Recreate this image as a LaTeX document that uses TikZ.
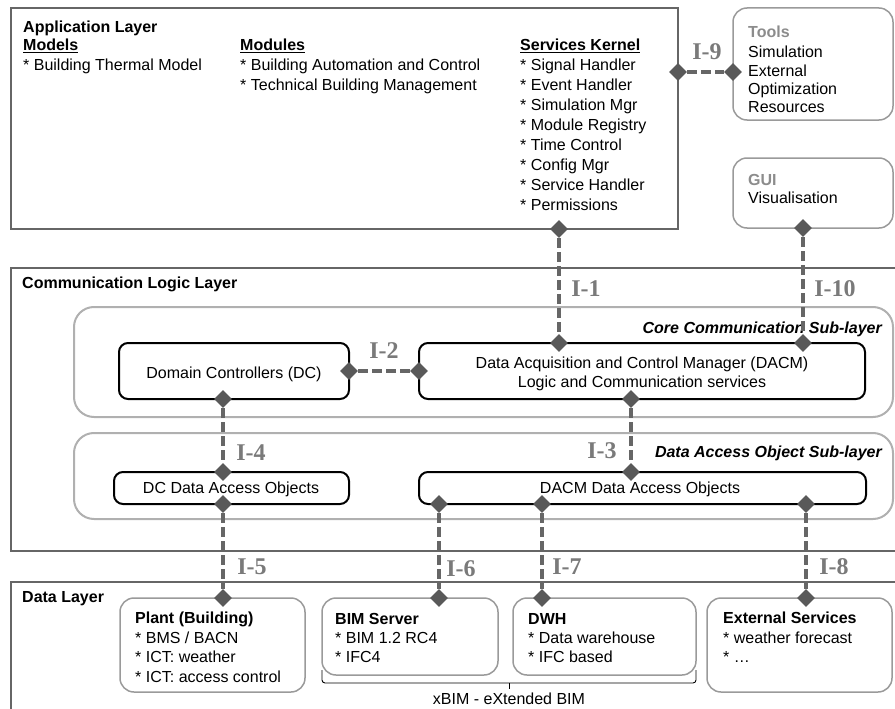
\documentclass[tikz,border=0pt]{standalone}
\usepackage{fontspec}
\setmainfont{Liberation Sans}
\newfontfamily\lblfont{Liberation Serif}
\usetikzlibrary{shapes.geometric,fit}
\definecolor{dgray}{HTML}{666666}
\definecolor{lgray}{HTML}{B0B0B0}
\definecolor{mgray}{HTML}{9A9A9A}
\definecolor{dia}{HTML}{595959}
\definecolor{lbl}{HTML}{7A7A7A}
\definecolor{hdgray}{HTML}{8C8C8C}
\begin{document}
\begin{tikzpicture}[x=1pt,y=-1pt,
  layer/.style={draw=dgray,line width=2pt,inner sep=0pt},
  sublayer/.style={draw=lgray,line width=2pt,rounded corners=20pt,inner sep=0pt},
  comp/.style={draw=black,line width=2pt,rounded corners=9pt,inner sep=0pt},
  ext/.style={draw=mgray,line width=1.5pt,rounded corners=14pt,inner sep=0pt},
  tx/.style={anchor=west,inner sep=0pt,text height=11.5pt,text depth=0pt,font=\fontsize{16}{20}\selectfont},
  txc/.style={tx,anchor=center},
  txr/.style={tx,anchor=east},
  dmd/.style={shape=diamond,fill=dia,inner sep=0pt,minimum width=18pt,minimum height=18pt},
  conn/.style={draw=dgray,line width=3.5pt,dash pattern=on 10pt off 4pt},
  ilbl/.style={inner sep=0pt,text=lbl,font=\fontsize{24}{24}\selectfont\lblfont\bfseries}
]
\useasboundingbox (0,0) rectangle (895,709);
\clip (0,0) rectangle (895,709);

% ---------- Application layer ----------
\node[layer,fit={(11,8) (678,229)}] (app) {};
\node[tx,font=\fontsize{16}{20}\selectfont\bfseries] (apptitle) at (23,27) {Application Layer};
\node[tx,font=\fontsize{16}{20}\selectfont\bfseries] (models) at (23,45) {\underline{Models}};
\node[tx] (m1) at (23,65) {* Building Thermal Model};
\node[tx,font=\fontsize{16}{20}\selectfont\bfseries] (modules) at (240,45) {\underline{Modules}};
\node[tx] (mo1) at (240,65) {* Building Automation and Control};
\node[tx] (mo2) at (240,85) {* Technical Building Management};
\node[tx,font=\fontsize{16}{20}\selectfont\bfseries] (sk) at (520,45) {\underline{Services Kernel}};
\foreach \t [count=\i from 0] in {Signal Handler,Event Handler,Simulation Mgr,Module Registry,Time Control,Config Mgr,Service Handler,Permissions}
  \node[tx] (sk\i) at (520,{65+19.9*\i}) {* \t};

% ---------- Tools / GUI ----------
\node[ext,fit={(733,8) (893,120)}] (tools) {};
\node[tx,font=\fontsize{16}{20}\selectfont\bfseries,text=hdgray] (toolst) at (748,32) {Tools};
\foreach \t [count=\i from 0] in {Simulation,External,Optimization,Resources}
  \node[tx] (tl\i) at (748,{52+18.3*\i}) {\t};
\node[ext,fit={(733,158) (893,228)}] (gui) {};
\node[tx,font=\fontsize{16}{20}\selectfont\bfseries,text=hdgray] (guit) at (748,180) {GUI};
\node[tx] (guiv) at (748,198) {Visualisation};

% ---------- Communication logic layer ----------
\node[layer,fit={(11,268) (910,551)}] (comm) {};
\node[tx,font=\fontsize{16}{20}\selectfont\bfseries] (commt) at (22,283) {Communication Logic Layer};
\node[sublayer,fit={(74,307) (893,417)}] (core) {};
\node[txr,font=\fontsize{16}{20}\selectfont\bfseries\itshape] (coret) at (882,328) {Core Communication Sub-layer};
\node[sublayer,fit={(74,433) (893,519)}] (dao) {};
\node[txr,font=\fontsize{16}{20}\selectfont\bfseries\itshape] (daot) at (882,452) {Data Access Object Sub-layer};

\node[comp,fit={(119,343) (349,399)}] (dc) {};
\node[txc] (dct) at (234,373) {Domain Controllers (DC)};
\node[comp,fit={(419,343) (865,399)}] (dacm) {};
\node[txc] (dacmt1) at (642,363) {Data Acquisition and Control Manager (DACM)};
\node[txc] (dacmt2) at (642,382) {Logic and Communication services};
\node[comp,fit={(114,472) (349,504)}] (dcdao) {};
\node[txc] (dcdaot) at (231,488) {DC Data Access Objects};
\node[comp,fit={(419,472) (866,504)}] (dacmdao) {};
\node[txc] (dacmdaot) at (640,488) {DACM Data Access Objects};

% ---------- Data layer ----------
\node[layer,fit={(11,582) (910,730)}] (datal) {};
\node[tx,font=\fontsize{16}{20}\selectfont\bfseries] (datat) at (22,597) {Data Layer};

\node[ext,fit={(120,598) (305,692)}] (plant) {};
\node[tx,font=\fontsize{16}{20}\selectfont\bfseries] (plantt) at (135,618) {Plant (Building)};
\node[tx] (p1) at (135,638) {* BMS / BACN};
\node[tx] (p2) at (135,657) {* ICT: weather};
\node[tx] (p3) at (135,677) {* ICT: access control};

\node[ext,fit={(322,598) (498,675)}] (bim) {};
\node[tx,font=\fontsize{16}{20}\selectfont\bfseries] (bimt) at (335,619) {BIM Server};
\node[tx] (b1) at (335,638) {* BIM 1.2 RC4};
\node[tx] (b2) at (335,657) {* IFC4};

\node[ext,fit={(513,598) (696,675)}] (dwh) {};
\node[tx,font=\fontsize{16}{20}\selectfont\bfseries] (dwht) at (528,619) {DWH};
\node[tx] (w1) at (528,638) {* Data warehouse};
\node[tx] (w2) at (528,657) {* IFC based};

\node[ext,fit={(707,598) (892,692)}] (exts) {};
\node[tx,font=\fontsize{16}{20}\selectfont\bfseries] (extt) at (723,618) {External Services};
\node[tx] (e1) at (723,638) {* weather forecast};
\node[tx] (e2) at (723,657) {* \dots};

% brace xBIM
\coordinate (brL) at (322,670);
\coordinate (brR) at (696,670);
\coordinate (brM) at (509,689);
\draw[line width=0.9pt,rounded corners=3pt] (brL) -- (322,683) -- (696,683) -- (brR);
\draw[line width=0.9pt] (509,683) -- (brM);
\node[txc] (xbim) at (509,699) {xBIM - eXtended BIM};

% ---------- Diamonds ----------
\node[dmd] (i1a) at (559,229) {};
\node[dmd] (i1b) at (559,343) {};
\node[dmd] (i10a) at (803,228) {};
\node[dmd] (i10b) at (803,343) {};
\node[dmd] (i9a) at (678,72) {};
\node[dmd] (i9b) at (733,72) {};
\node[dmd] (i2a) at (349,371) {};
\node[dmd] (i2b) at (419,371) {};
\node[dmd] (i4a) at (223,399) {};
\node[dmd] (i4b) at (223,472) {};
\node[dmd] (i3a) at (631,399) {};
\node[dmd] (i3b) at (631,472) {};
\node[dmd] (i5a) at (223,504) {};
\node[dmd] (i5b) at (223,598) {};
\node[dmd] (i6a) at (439,504) {};
\node[dmd] (i6b) at (439,598) {};
\node[dmd] (i7a) at (542,504) {};
\node[dmd] (i7b) at (542,598) {};
\node[dmd] (i8a) at (806,504) {};
\node[dmd] (i8b) at (806,598) {};

% ---------- Connectors ----------
\draw[conn] (i1a) -- (i1b);
\draw[conn] (i10a) -- (i10b);
\draw[conn] (i9a) -- (i9b);
\draw[conn] (i2a) -- (i2b);
\draw[conn] (i4a) -- (i4b);
\draw[conn] (i3a) -- (i3b);
\draw[conn] (i5a) -- (i5b);
\draw[conn] (i6a) -- (i6b);
\draw[conn] (i7a) -- (i7b);
\draw[conn] (i8a) -- (i8b);

% ---------- Interface labels ----------
\node[ilbl] (l1) at (586,289) {I-1};
\node[ilbl] (l10) at (835,289) {I-10};
\node[ilbl] (l9) at (707,52) {I-9};
\node[ilbl] (l2) at (384,351) {I-2};
\node[ilbl] (l4) at (251,453) {I-4};
\node[ilbl] (l3) at (602,451) {I-3};
\node[ilbl] (l5) at (252,567) {I-5};
\node[ilbl] (l6) at (461,569) {I-6};
\node[ilbl] (l7) at (567,567) {I-7};
\node[ilbl] (l8) at (834,567) {I-8};
\end{tikzpicture}
\end{document}
